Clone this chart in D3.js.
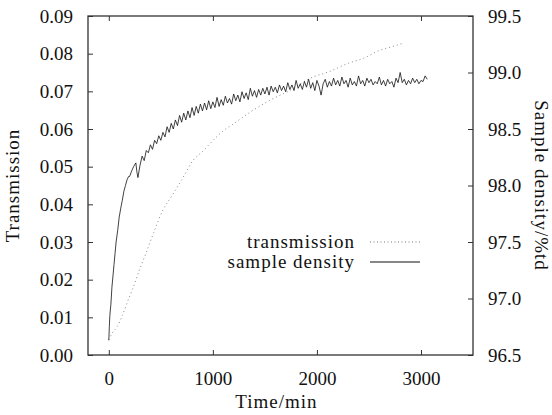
<!DOCTYPE html>
<html>
<head>
<meta charset="utf-8">
<script src="https://cdn.jsdelivr.net/npm/d3@7"></script>
<style>
  body { margin: 0; background: #fff; }
  text { font-family: "Liberation Serif", "DejaVu Serif", serif; fill: #111; }
</style>
</head>
<body>
<div id="container"></div>
<script>
// data
const xTicks = [0, 1000, 2000, 3000];
const leftTicks = [0, 0.01, 0.02, 0.03, 0.04, 0.05, 0.06, 0.07, 0.08, 0.09];
const rightTicks = [96.5, 97.0, 97.5, 98.0, 98.5, 99.0, 99.5];

// transmission (dotted grey line): [time, transmission]
const transmission = [
  [0, 0.004], [30, 0.0057], [80, 0.0075], [130, 0.0105], [185, 0.0145],
  [235, 0.018], [300, 0.023], [350, 0.0265], [430, 0.0324], [520, 0.0385],
  [600, 0.042], [700, 0.0465], [814, 0.0518], [900, 0.054], [975, 0.0562],
  [1100, 0.0595], [1184, 0.0611], [1360, 0.0645], [1553, 0.0677], [1745, 0.0703],
  [1937, 0.0735], [2114, 0.0752], [2306, 0.0775], [2450, 0.0788], [2595, 0.0808],
  [2739, 0.082], [2830, 0.0828]
];

// sample density (noisy black line): [time, %td]
const density = [
  [0, 96.63], [5, 96.75], [10, 96.85], [20, 96.95], [30, 97.1], [40, 97.2], [50, 97.3],
  [60, 97.4], [70, 97.5], [85, 97.6], [100, 97.72], [115, 97.8], [130, 97.87], [145, 97.95],
  [160, 98.0], [175, 98.05], [190, 98.08], [200, 98.08], [220, 98.13], [240, 98.17],
  [260, 98.20], [270, 98.12], [280, 98.07], [300, 98.18], [320, 98.26], [340, 98.22],
  [360, 98.31], [380, 98.29], [400, 98.36], [420, 98.32], [440, 98.40], [460, 98.37],
  [480, 98.44], [500, 98.40], [520, 98.47], [540, 98.43], [560, 98.52], [580, 98.47],
  [600, 98.55], [620, 98.50], [640, 98.58], [660, 98.53], [680, 98.62], [700, 98.56],
  [720, 98.64], [740, 98.58], [760, 98.66], [780, 98.60], [800, 98.69], [820, 98.62],
  [840, 98.70], [860, 98.64], [880, 98.72], [900, 98.66], [920, 98.73], [940, 98.67],
  [960, 98.75], [980, 98.68], [1000, 98.74], [1020, 98.69], [1040, 98.78], [1060, 98.70],
  [1080, 98.76], [1100, 98.71], [1120, 98.79], [1140, 98.73], [1160, 98.77], [1180, 98.72],
  [1200, 98.81], [1220, 98.75], [1240, 98.80], [1260, 98.74], [1280, 98.83], [1300, 98.77],
  [1320, 98.82], [1340, 98.76], [1360, 98.86], [1380, 98.79], [1400, 98.84], [1420, 98.78],
  [1440, 98.85], [1460, 98.80], [1480, 98.86], [1500, 98.81], [1520, 98.87], [1540, 98.80],
  [1560, 98.88], [1580, 98.83], [1600, 98.87], [1620, 98.82], [1640, 98.89], [1660, 98.84],
  [1680, 98.88], [1700, 98.83], [1720, 98.91], [1740, 98.85], [1760, 98.89], [1780, 98.84],
  [1800, 98.93], [1820, 98.86], [1840, 98.90], [1860, 98.85], [1880, 98.92], [1900, 98.87],
  [1920, 98.94], [1940, 98.86], [1960, 98.91], [1980, 98.84], [2000, 98.93], [2020, 98.88],
  [2040, 98.80], [2060, 98.90], [2080, 98.94], [2100, 98.87], [2120, 98.92], [2140, 98.88],
  [2160, 98.95], [2180, 98.89], [2200, 98.93], [2220, 98.88], [2240, 98.96], [2260, 98.90],
  [2280, 98.93], [2300, 98.87], [2320, 98.95], [2340, 98.89], [2360, 98.92], [2380, 98.88],
  [2400, 98.97], [2420, 98.90], [2440, 98.93], [2460, 98.88], [2480, 98.95], [2500, 98.91],
  [2520, 98.94], [2540, 98.89], [2560, 98.92], [2580, 98.90], [2600, 98.96], [2620, 98.89],
  [2640, 98.93], [2660, 98.88], [2680, 98.94], [2700, 98.90], [2720, 98.92], [2740, 98.87],
  [2760, 98.95], [2780, 98.91], [2800, 99.00], [2820, 98.91], [2840, 98.94], [2860, 98.89],
  [2880, 98.93], [2900, 98.90], [2920, 98.95], [2940, 98.91], [2960, 98.94], [2980, 98.90],
  [3000, 98.93], [3020, 98.92], [3040, 98.97], [3060, 98.94]
];

/* CONSTANTS */
const width = 552, height = 415,
      margin = { top: 16, right: 79, bottom: 60, left: 88 },
      fontSize = 19;
const innerW = width - margin.left - margin.right,
      innerH = height - margin.top - margin.bottom;

const svg = d3.select("#container").append("svg")
  .attr("width", width)
  .attr("height", height);

const g = svg.append("g")
  .attr("transform", `translate(${margin.left},${margin.top})`);

// scales
const x = d3.scaleLinear().domain([-200, 3500]).range([0, innerW]);
const yLeft = d3.scaleLinear().domain([0, 0.09]).range([innerH, 0]);
const yRight = d3.scaleLinear().domain([96.5, 99.5]).range([innerH, 0]);

// axes - ticks point inward like the original
const tickLen = 5;
const bottomAxis = d3.axisBottom(x).tickValues(xTicks).tickSize(-tickLen).tickPadding(tickLen + 12).tickFormat(d3.format("d"));
const topAxis = d3.axisTop(x).tickValues(xTicks).tickSize(-tickLen).tickFormat("");
const leftAxis = d3.axisLeft(yLeft).tickValues(leftTicks).tickSize(-tickLen).tickPadding(tickLen + 10).tickFormat(d3.format(".2f"));
const rightAxis = d3.axisRight(yRight).tickValues(rightTicks).tickSize(-tickLen).tickPadding(tickLen + 10).tickFormat(d3.format(".1f"));

function styleAxis(sel) {
  sel.select(".domain").remove();
  sel.selectAll(".tick line").attr("stroke", "#333").attr("stroke-width", 1);
  sel.selectAll("text").attr("font-size", fontSize).attr("font-family", "Liberation Serif").attr("fill", "#111");
}

g.append("g").attr("transform", `translate(0,${innerH})`).call(bottomAxis).call(styleAxis);
g.append("g").call(topAxis).call(styleAxis);
g.append("g").call(leftAxis).call(styleAxis);
g.append("g").attr("transform", `translate(${innerW},0)`).call(rightAxis).call(styleAxis);

// frame
g.append("rect")
  .attr("width", innerW)
  .attr("height", innerH)
  .attr("fill", "none")
  .attr("stroke", "#333")
  .attr("stroke-width", 1.3);

// lines
const transLine = d3.line().x(d => x(d[0])).y(d => yLeft(d[1])).curve(d3.curveMonotoneX);
const densLine = d3.line().x(d => x(d[0])).y(d => yRight(d[1]));

g.append("path")
  .datum(transmission)
  .attr("d", transLine)
  .attr("fill", "none")
  .attr("stroke", "#888")
  .attr("stroke-width", 1)
  .attr("stroke-dasharray", "1,3");

g.append("path")
  .datum(density)
  .attr("d", densLine)
  .attr("fill", "none")
  .attr("stroke", "#111")
  .attr("stroke-width", 0.8);

// legend
const legend = [
  { label: "transmission", dash: "1,2.5", color: "#777" },
  { label: "sample density", dash: null, color: "#111" }
];
legend.forEach((d, i) => {
  const ly = 242 + i * 20 - margin.top;
  g.append("text")
    .attr("x", 355 - margin.left)
    .attr("y", ly)
    .attr("dy", "0.32em")
    .attr("text-anchor", "end")
    .attr("font-size", fontSize)
    .attr("letter-spacing", 1)
    .text(d.label);
  g.append("line")
    .attr("x1", 370 - margin.left)
    .attr("x2", 420 - margin.left)
    .attr("y1", ly)
    .attr("y2", ly)
    .attr("stroke", d.color)
    .attr("stroke-width", 1)
    .attr("stroke-dasharray", d.dash);
});

// axis titles
svg.append("text")
  .attr("x", margin.left + innerW / 2 - 4)
  .attr("y", 408)
  .attr("text-anchor", "middle")
  .attr("font-size", fontSize)
  .attr("letter-spacing", 1)
  .text("Time/min");

svg.append("text")
  .attr("transform", `translate(19,${margin.top + innerH / 2}) rotate(-90)`)
  .attr("text-anchor", "middle")
  .attr("font-size", fontSize)
  .attr("letter-spacing", 1)
  .text("Transmission");

svg.append("text")
  .attr("transform", `translate(535,${margin.top + innerH / 2}) rotate(90)`)
  .attr("text-anchor", "middle")
  .attr("font-size", fontSize)
  .attr("letter-spacing", 1)
  .text("Sample density/%td");
</script>
</body>
</html>
